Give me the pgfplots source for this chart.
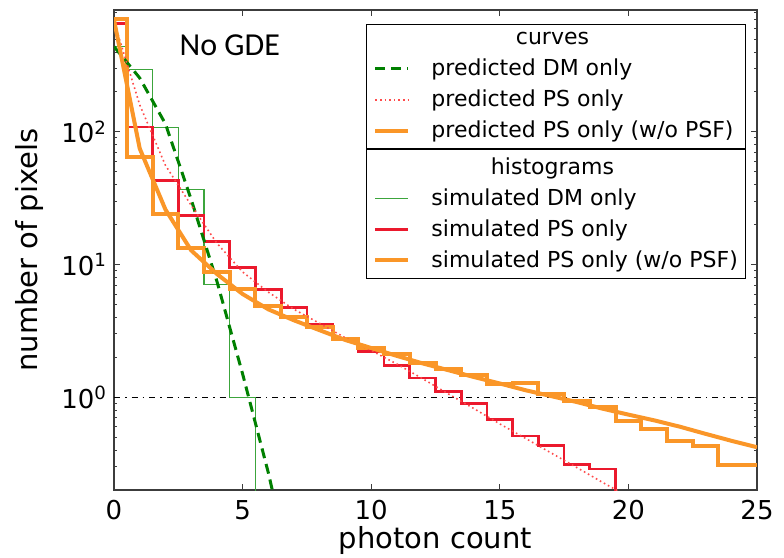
\documentclass[border=0pt]{standalone}
\usepackage{pgfplots}
\pgfplotsset{compat=1.18}
\usepackage{fontspec}
\setmainfont{DejaVu Sans}
\newfontfamily\calibri{Carlito}
\definecolor{dmgreen}{RGB}{0,128,0}
\definecolor{hgreen}{RGB}{60,165,60}
\definecolor{psred}{RGB}{235,25,45}
\definecolor{dotred}{RGB}{255,75,75}
\definecolor{psorange}{RGB}{250,150,40}
\definecolor{framegray}{RGB}{60,60,60}

\begin{document}
\begin{tikzpicture}
% ---------------- axis with frame, histograms ----------------
\begin{axis}[
  scale only axis, width=321.5pt, height=240pt,
  ymode=log, xmin=0, xmax=25, ymin=0.2, ymax=830, clip=true,
  legend image code/.code={\path[draw=none,fill=none] (-3.5pt,0pt) -- (26pt,0pt); \draw[#1] (0pt,0pt) -- (16.5pt,0pt);},
  legend cell align=left,
  legend style={font=\fontsize{11}{13}\selectfont, draw=black, line width=0.6pt,
      fill=white, inner xsep=1pt, inner ysep=2pt, row sep=1.6pt,
      /tikz/every even column/.append style={column sep=10pt},
      at={(0.983,0.71)}, anchor=north east},
  xtick={0,5,10,15,20,25},
  ytick={1,10,100},
  yticklabels={10\textsuperscript{0},10\textsuperscript{1},10\textsuperscript{2}},
  minor ytick={0.2,0.3,0.4,0.5,0.6,0.7,0.8,0.9,2,3,4,5,6,7,8,9,20,30,40,50,60,70,80,90,200,300,400,500,600,700,800},
  tick pos=both, tick align=inside,
  major tick length=3pt, minor tick length=1.6pt,
  every tick/.style={framegray, line width=0.5pt},
  axis line style={framegray, line width=0.8pt},
  /pgf/number format/assume math mode=true,
  tick label style={font=\fontsize{13}{15}\selectfont},
  xticklabel style={yshift=-1.5pt},
  xlabel={photon count}, ylabel={number of pixels},
  every axis x label/.style={at={(axis description cs:0.5,-0.106)}, anchor=center,
      font=\fontsize{14.5}{17}\selectfont},
  every axis y label/.style={at={(axis description cs:-0.131,0.5)}, rotate=90, anchor=center,
      font=\fontsize{14.5}{17}\selectfont},
]
\coordinate (A) at (rel axis cs:0,0);
\coordinate (B) at (rel axis cs:1,1);
\addplot[black, line width=0.5pt, dash pattern=on 3pt off 2.5pt on 0.8pt off 2.5pt, forget plot]
  coordinates {(0,1) (25,1)};
\addlegendimage{empty legend}
\addlegendentry{\makebox[154pt][c]{\hspace*{-33pt}histograms}}
\addplot[hgreen, line width=0.6pt, const plot mark left] coordinates {
(0,440) (0.5,296) (1.5,108) (2.5,37) (3.5,7.07) (4.5,1) (5.5,0.01)};
\addlegendentry{simulated DM only}
\addplot[psred, line width=1.35pt, const plot mark left] coordinates {
(0,656) (0.5,109) (1.5,43) (2.5,23.5) (3.5,14.9) (4.5,9.55) (5.5,6.5) (6.5,4.75)
(7.5,3.54) (8.5,2.8) (9.5,2.2) (10.5,1.74) (11.5,1.4) (12.5,1.1) (13.5,0.9)
(14.5,0.68) (15.5,0.51) (16.5,0.435) (17.5,0.31) (18.5,0.288) (19.5,0.01)};
\addlegendentry{simulated PS only}
\addplot[psorange, line width=2pt, const plot mark left] coordinates {
(0,716) (0.5,65) (1.5,24.2) (2.5,13.3) (3.5,8.8) (4.5,6.5) (5.5,4.86) (6.5,4.0)
(7.5,3.36) (8.5,2.75) (9.5,2.35) (10.5,2.12) (11.5,1.8) (12.5,1.62) (13.5,1.47)
(14.5,1.25) (15.5,1.29) (16.5,1.06) (17.5,0.94) (18.5,0.84) (19.5,0.66) (20.5,0.58)
(21.5,0.47) (22.5,0.43) (23.5,0.31) (25,0.31)};
\addlegendentry{simulated PS only (w/o PSF)}
\node[font=\calibri\fontsize{16}{19}\selectfont] at (axis cs:4.5,451) {No GDE};
\end{axis}
% ---------------- overlay axis with predicted curves ----------------
\begin{axis}[
  scale only axis, width=321.5pt, height=240pt,
  ymode=log, xmin=0, xmax=25, ymin=0.2, ymax=830, clip=true, hide axis,
  legend image code/.code={\path[draw=none,fill=none] (-3.5pt,0pt) -- (26pt,0pt); \draw[#1] (0pt,0pt) -- (16.5pt,0pt);},
  legend cell align=left,
  legend style={font=\fontsize{11}{13}\selectfont, draw=black, line width=0.6pt,
      fill=white, inner xsep=1pt, inner ysep=2pt, row sep=1.6pt,
      /tikz/every even column/.append style={column sep=10pt},
      at={(0.983,0.71)}, anchor=south east},
]
\addlegendimage{empty legend}
\addlegendentry{\makebox[154pt][c]{\hspace*{-33pt}curves}}
\addplot[dmgreen, line width=1.5pt, dash pattern=on 5pt off 3pt] coordinates {
(0,440) (1,255) (2,115) (3,31) (4,7.5) (5,1.5) (6,0.27) (7,0.038)};
\addlegendentry{predicted DM only}
\addplot[dotred, line width=0.8pt, dash pattern=on 0.8pt off 1.5pt] coordinates {
(0,680) (1,160) (2,56) (3,28) (4,14.5) (5,8.8) (6,6.2) (7,4.6) (8,3.6) (9,2.8)
(10,2.25) (11,1.78) (12,1.38) (13,1.06) (14,0.82) (15,0.63) (16,0.49) (17,0.38)
(18,0.295) (19,0.228) (20,0.178)};
\addlegendentry{predicted PS only}
\addplot[psorange, line width=2pt, line join=round] coordinates {
(0,700) (1,75) (2,26) (3,12.8) (4,8.5) (5,6.0) (6,4.6) (7,3.8) (8,3.2) (9,2.7)
(10,2.35) (11,2.05) (12,1.8) (13,1.6) (14,1.42) (15,1.27) (16,1.13) (17,1.02)
(18,0.92) (19,0.82) (20,0.74) (21,0.67) (22,0.6) (23,0.53) (24,0.47) (25,0.42)};
\addlegendentry{predicted PS only (w/o PSF)}
\end{axis}
\pgfresetboundingbox
\path ([shift={(-57pt,-33.5pt)}]A) rectangle ([shift={(13.5pt,5pt)}]B);
\end{tikzpicture}
\end{document}
